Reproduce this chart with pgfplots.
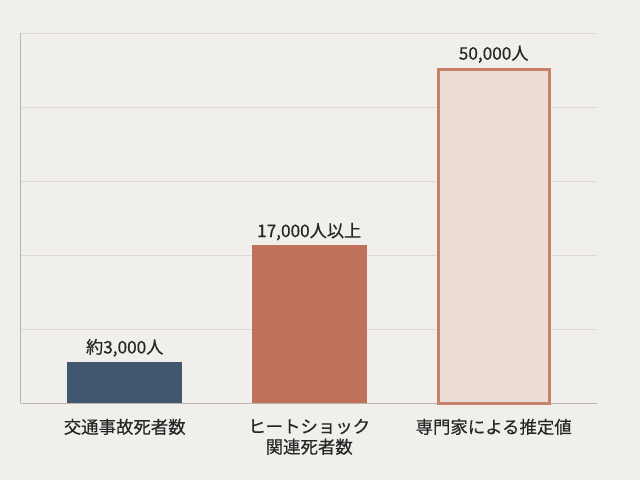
\documentclass[border=0pt]{standalone}
\usepackage{fontspec}
\setmainfont{Noto Sans CJK JP}[FakeBold=0.4,AutoFakeBold=0.4]
\usepackage{pgfplots}
\pgfplotsset{compat=1.18}

\definecolor{bg}{HTML}{F1EFEB}
\definecolor{gridc}{HTML}{DDDAD5}
\definecolor{axisc}{HTML}{B8B5B0}
\definecolor{navy}{HTML}{41566F}
\definecolor{rust}{HTML}{BF7259}
\definecolor{pinkfill}{HTML}{EBDDD5}
\definecolor{pinkedge}{HTML}{C8826C}

% bar heights as drawn (the picture is not to scale)
\pgfplotstableread{
x y
0 5620
}\traffic
\pgfplotstableread{
x y
1 21350
}\heatshock
\pgfplotstableread{
x y
2 45150
}\expert

\begin{document}
\begin{tikzpicture}
  \fill[bg] (0,0) rectangle (640bp,480bp);
  \useasboundingbox (0,0) rectangle (640bp,480bp);
  \begin{axis}[
    at={(20.5bp,76.7bp)}, anchor=south west,
    scale only axis,
    width=576.5bp, height=370bp,
    xmin=-0.565, xmax=2.56,
    ymin=0, ymax=50000,
    scaled y ticks=false,
    axis x line*=bottom, axis y line*=left,
    axis line style={axisc, line width=0.8bp, -},
    ytick={10000,20000,30000,40000,50000},
    yticklabels={},
    ymajorgrids,
    grid style={gridc, line width=0.8bp},
    xtick={0,1,2},
    xticklabels={交通事故死者数, ヒートショック\\関連死者数, 専門家による推定値},
    xticklabel style={align=center, font=\fontsize{17.4bp}{20.5bp}\selectfont, text=black!85, yshift=-12bp},
    major tick length=0pt,
    ybar, bar width=115bp,
    /pgf/bar shift=0pt,
    nodes near coords style={font=\fontsize{17.2bp}{20bp}\selectfont, text=black!85, yshift=1.5bp},
    clip=false,
  ]
    \addplot[fill=navy, draw=none, nodes near coords={約3,000人}] table {\traffic};
    \addplot[fill=rust, draw=none, nodes near coords={17,000人以上}] table {\heatshock};
    \addplot[fill=pinkfill, draw=pinkedge, line width=3bp, bar width=111bp, nodes near coords={50,000人}] table {\expert};
  \end{axis}
\end{tikzpicture}
\end{document}
